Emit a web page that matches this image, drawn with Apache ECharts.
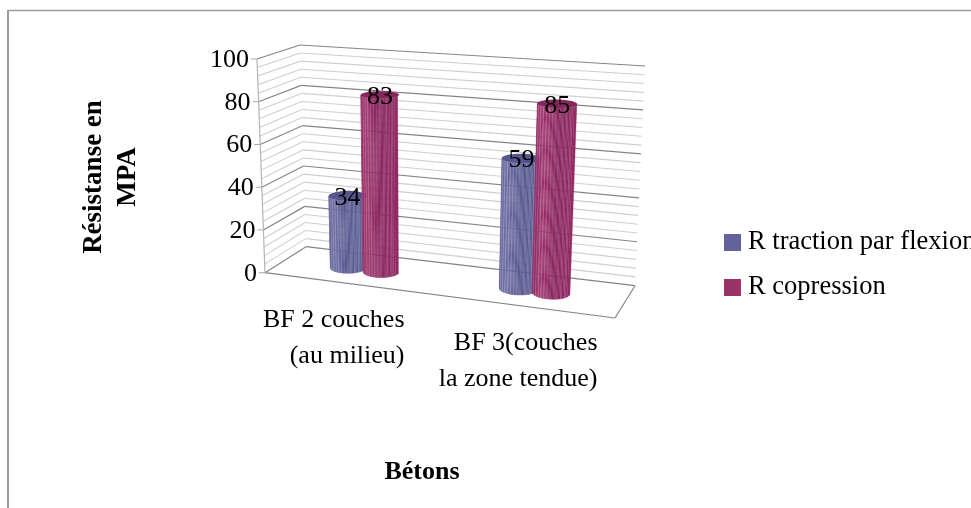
<!DOCTYPE html>
<html>
<head>
<meta charset="utf-8">
<title>Résistance</title>
<style>
  html, body { margin: 0; padding: 0; background: #fff; }
  #chart { width: 971px; height: 508px; }
</style>
<script src="https://cdn.jsdelivr.net/npm/echarts@6/dist/echarts.min.js"></script>
</head>
<body>
<div id="chart"></div>
<script>
// donnees du graphique
var categories = ['BF 2 couches\n(au milieu)', 'BF 3(couches\nla zone tendue)'];
var tractionValues = [34, 59];
var compressionValues = [83, 85];
var yTicks = [0, 20, 40, 60, 80, 100];
var minorTicks = [0, 4, 8, 12, 16, 20, 24, 28, 32, 36, 40, 44, 48, 52, 56, 60, 64, 68, 72, 76, 80, 84, 88, 92, 96, 100];

var FONT = '"Liberation Serif", "Times New Roman", serif';

// coins de la boite 3D en pixels : [face avant, face arriere]
var box = {
  floor: { fl: [265, 272.7], fr: [615, 318], bl: [306, 246.7], br: [635, 285.7] },
  top: { fl: [257, 59], fr: [627, 85], bl: [300, 45], br: [645, 66] }
};
var catLabelDx = [52, 70];

function mix(a, b, t) {
  return [a[0] + (b[0] - a[0]) * t, a[1] + (b[1] - a[1]) * t];
}
// u: gauche-droite, v: hauteur, w: avant-arriere (tout entre 0 et 1)
function project(u, v, w) {
  var low = mix(mix(box.floor.fl, box.floor.fr, u), mix(box.floor.bl, box.floor.br, u), w);
  var high = mix(mix(box.top.fl, box.top.fr, u), mix(box.top.bl, box.top.br, u), w);
  return mix(low, high, v);
}
// passe de la grille plate (cachee) a la boite, via les echelles de l'axe
function normalize(api, params, x, y) {
  var c = api.coord([x, y]);
  var r = params.coordSys;
  return { u: (c[0] - r.x) / r.width, v: (r.y + r.height - c[1]) / r.height };
}
function line(a, b, color, width) {
  return {
    type: 'line',
    shape: { x1: a[0], y1: a[1], x2: b[0], y2: b[1] },
    style: { stroke: color, lineWidth: width },
    silent: true
  };
}

function renderWalls(params, api) {
  var val = api.value(0);
  var n = normalize(api, params, 0, val);
  var major = yTicks.indexOf(val) >= 0;
  var color = major ? '#858585' : '#cfcfcf';
  var width = major ? 1.2 : 1.1;
  var kids = [
    line(project(0, n.v, 0), project(0, n.v, 1), color, width),
    line(project(0, n.v, 1), project(1, n.v, 1), color, width)
  ];
  if (major) {
    var p = project(0, n.v, 0);
    kids.push(line([p[0] - 6, p[1]], p, '#a6a6a6', 1));
    kids.push({
      type: 'text',
      x: p[0] - 8,
      y: p[1] + 1,
      style: { text: String(val), fontFamily: FONT, fontSize: 26, fill: '#000', align: 'right', verticalAlign: 'middle' }
    });
  }
  return { type: 'group', children: kids };
}

function renderFrame(params, api) {
  if (params.dataIndex > 0) return null;
  var fl = project(0, 0, 0), fr = project(1, 0, 0), br = project(1, 0, 1);
  var tfl = project(0, 1, 0);
  return {
    type: 'group',
    children: [
      line(fl, fr, '#858585', 1.2),
      line(fr, br, '#858585', 1.2),
      line(fl, tfl, '#b4b4b4', 1.2)
    ]
  };
}

function renderCatLabels(params, api) {
  var i = api.value(0);
  var n = normalize(api, params, i, 0);
  var p = project(n.u, 0, 0);
  return {
    type: 'text',
    x: p[0] + catLabelDx[i],
    y: p[1] + 18,
    style: { text: categories[i], fontFamily: FONT, fontSize: 26, lineHeight: 36, fill: '#000', align: 'right', verticalAlign: 'top' }
  };
}

function stripeColor(k, total, shade) {
  var t = k / total;
  // rayures fines + ombre large du cylindre
  var strength = 0.35 + 0.65 * Math.exp(-Math.pow((t - 0.25) / 0.3, 2));
  var light = (k % 3 === 0) ? shade.stripe * strength : 0;
  var dark = Math.exp(-Math.pow((t - 0.68) / 0.2, 2)) * 0.4;
  var c = [];
  for (var j = 0; j < 3; j++) {
    var x = shade.base[j];
    x = x + (shade.light[j] - x) * light;
    x = x + (shade.dark[j] - x) * dark;
    c.push(Math.round(x));
  }
  return 'rgb(' + c.join(',') + ')';
}

function makeCylinder(offset, shade) {
  return function (params, api) {
    var catIdx = api.value(0);
    var val = api.value(1);
    var n = normalize(api, params, catIdx, val);
    var u = n.u + offset;
    var rU = 0.047 + 0.01 * u;
    var rW = 0.2;
    var strips = 36;
    var kids = [];
    var ring = function (t, v) {
      return project(u + rU * Math.cos(t), v, 0.5 + rW * Math.sin(t));
    };
    for (var k = 0; k < strips; k++) {
      // cote visible, de gauche a droite par cos
      var c0 = -1 + 2 * k / strips, c1 = -1 + 2 * (k + 1) / strips;
      var t0 = -Math.acos(c0), t1 = -Math.acos(c1);
      var col = stripeColor(k, strips, shade);
      kids.push({
        type: 'polygon',
        shape: { points: [ring(t0, 0), ring(t1, 0), ring(t1, n.v), ring(t0, n.v)] },
        style: { fill: col, stroke: col, lineWidth: 0.3 },
        silent: true
      });
    }
    var lid = [];
    for (var a = 0; a < 40; a++) lid.push(ring(a / 40 * Math.PI * 2, n.v));
    kids.push({ type: 'polygon', shape: { points: lid }, style: { fill: shade.top }, silent: true });
    var center = project(u, n.v, 0.5);
    kids.push({
      type: 'text',
      x: center[0],
      y: center[1] + 2,
      z2: 100,
      style: { text: String(val), fontFamily: FONT, fontSize: 26, fill: '#000', align: 'center', verticalAlign: 'middle' }
    });
    return { type: 'group', children: kids };
  };
}

var blueShade = { base: [98, 99, 152], light: [158, 160, 206], dark: [78, 79, 130], top: '#55568e', stripe: 0.8 };
var redShade = { base: [146, 44, 100], light: [204, 112, 160], dark: [120, 32, 84], top: '#84265c', stripe: 0.8 };

var chart = echarts.init(document.getElementById('chart'));
chart.setOption({
  backgroundColor: '#fff',
  animation: false,
  grid: { left: 240, width: 364, top: 45, height: 264 },
  xAxis: {
    type: 'category',
    data: categories,
    boundaryGap: true,
    name: 'Bétons',
    nameLocation: 'middle',
    nameGap: 150,
    nameTextStyle: { fontFamily: FONT, fontSize: 26, fontWeight: 'bold', color: '#000' },
    axisLine: { show: false },
    axisTick: { show: false },
    axisLabel: { show: false },
    splitLine: { show: false }
  },
  yAxis: {
    type: 'value',
    min: 0,
    max: 100,
    interval: 20,
    name: 'Résistanse en\nMPA',
    nameLocation: 'middle',
    nameGap: 95,
    nameRotate: 90,
    nameTextStyle: { fontFamily: FONT, fontSize: 27, fontWeight: 'bold', color: '#000', lineHeight: 34 },
    axisLine: { show: false },
    axisTick: { show: false },
    axisLabel: { show: false },
    splitLine: { show: false }
  },
  legend: {
    left: 724,
    top: 229,
    padding: 0,
    orient: 'vertical',
    itemWidth: 17,
    itemHeight: 17,
    itemGap: 18,
    icon: 'rect',
    textStyle: { fontFamily: FONT, fontSize: 26.5, color: '#000', padding: [0, 0, 0, 2] },
    selectedMode: false,
    data: [
      { name: 'R traction par flexion', itemStyle: { color: '#62639b' } },
      { name: 'R copression', itemStyle: { color: '#993366' } }
    ]
  },
  graphic: [
    { type: 'line', shape: { x1: 8, y1: 10.5, x2: 971, y2: 10.5 }, style: { stroke: '#9a9a9a', lineWidth: 1.6 } },
    { type: 'line', shape: { x1: 8, y1: 10, x2: 8, y2: 508 }, style: { stroke: '#9a9a9a', lineWidth: 2 } }
  ],
  series: [
    {
      name: 'murs',
      type: 'custom',
      silent: true,
      renderItem: renderWalls,
      data: minorTicks.map(function (t) { return [t]; }),
      encode: { y: 0 },
      z: 1
    },
    {
      name: 'cadre',
      type: 'custom',
      silent: true,
      renderItem: renderFrame,
      data: [[0]],
      z: 2
    },
    {
      name: 'categories',
      type: 'custom',
      silent: true,
      renderItem: renderCatLabels,
      data: categories.map(function (c, i) { return [i]; }),
      z: 2
    },
    {
      name: 'R traction par flexion',
      type: 'custom',
      silent: true,
      renderItem: makeCylinder(-0.064, blueShade),
      data: tractionValues.map(function (v, i) { return [i, v]; }),
      encode: { x: 0, y: 1 },
      itemStyle: { color: '#62639b' },
      z: 3
    },
    {
      name: 'R copression',
      type: 'custom',
      silent: true,
      renderItem: makeCylinder(0.033, redShade),
      data: compressionValues.map(function (v, i) { return [i, v]; }),
      encode: { x: 0, y: 1 },
      itemStyle: { color: '#993366' },
      z: 3
    }
  ]
});
</script>
</body>
</html>
